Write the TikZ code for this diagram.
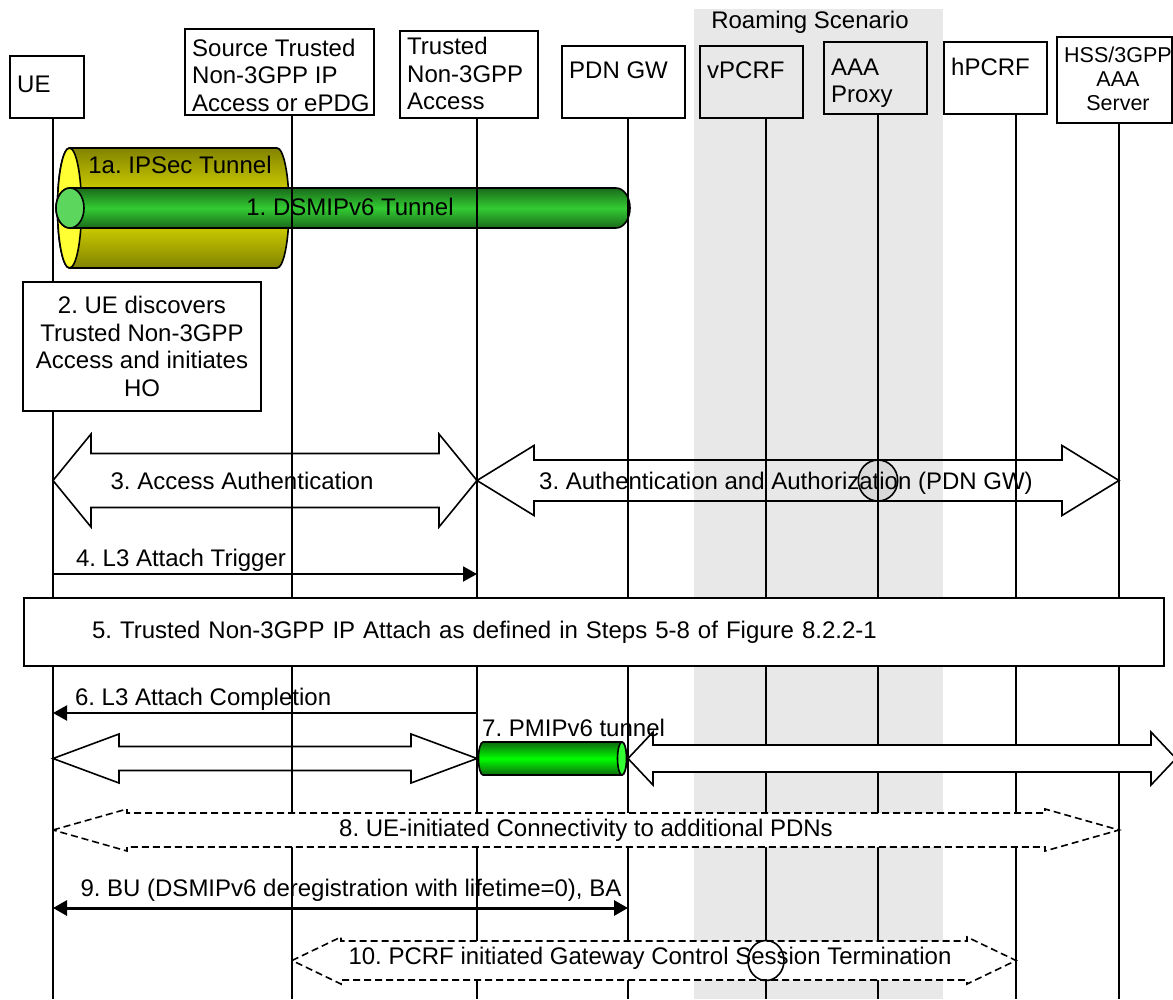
\documentclass[tikz,border=0pt]{standalone}
\usepackage{fontspec}
\setmainfont{Liberation Sans}
\usetikzlibrary{calc,arrows.meta}
\frenchspacing
\definecolor{roamgray}{HTML}{E8E8E8}
\definecolor{ipsecdark}{HTML}{838300}
\definecolor{ipsecmid}{HTML}{EAEA00}
\definecolor{ipsecface}{HTML}{FFFF33}
\definecolor{dsmipdark}{HTML}{1A6A1A}
\definecolor{dsmipmid}{HTML}{33CC33}
\definecolor{dsmipface}{HTML}{5CD65C}
\definecolor{pmipdark}{HTML}{0E6A0E}
\definecolor{pmipmid}{HTML}{00FF00}
\definecolor{pmipface}{HTML}{33FF33}
\definecolor{aaadot}{HTML}{D9D9D9}
\tikzset{
  entbox/.style={draw, line width=1.6pt, inner sep=0pt},
  enttext/.style={anchor=west, align=left, inner sep=0pt, font=\fontsize{24}{27.5}\selectfont},
  lifeline/.style={line width=1.5pt},
  stepbox/.style={draw, fill=white, line width=1.6pt, align=center, font=\fontsize{24}{27.7}\selectfont},
  lbl/.style={inner sep=2pt, font=\fontsize{24}{28}\selectfont},
  bigarrow/.style={draw, line width=1.6pt},
  bigarrowfill/.style={bigarrow, fill=white},
  dasharrow/.style={bigarrow, fill=white, dash pattern=on 7pt off 4pt},
  msg/.style={line width=2pt, -{Triangle[length=14pt,width=15pt]}},
  msgboth/.style={line width=3pt, {Triangle[length=14pt,width=15pt]}-{Triangle[length=14pt,width=15pt]}},
}
\newcommand{\netbox}[9]{%
  \node[entbox, minimum width={(#5-#3)*1pt}, minimum height={(#6-#4)*1pt}] (#1)
    at ({(#3+#5)/2},{(#4+#6)/2}) {};
  \node[enttext, #9] (#1-t) at ({#3+7},#7) {#8};
  \coordinate (#1-l) at (#2,#6);
  \coordinate (#1-e) at (#2,999);}
\newcommand{\tunnel}[9]{%
  \shadedraw[top color=#6, bottom color=#6, middle color=#7, line width=1.6pt]
    (#1,{#3-#4}) -- (#2,{#3-#4}) arc[start angle=-90, end angle=90, x radius=#5, y radius=#4]
    -- (#1,{#3+#4}) arc[start angle=90, end angle=270, x radius=#5, y radius=#4] -- cycle;
  \filldraw[fill=#8, line width=1.6pt] (#9,#3) ellipse [x radius=#5, y radius=#4];}
\newcommand{\blockarrow}[7]{%
  \coordinate (#1-a) at (#3);
  \coordinate (#1-b) at (#4);
  \draw[#2] (#1-a) -- ($(#1-a)+(#7,-#5)$) -- ($(#1-a)+(#7,-#6)$)
    -- ($(#1-b)+(-#7,-#6)$) -- ($(#1-b)+(-#7,-#5)$) -- (#1-b)
    -- ($(#1-b)+(-#7,#5)$) -- ($(#1-b)+(-#7,#6)$)
    -- ($(#1-a)+(#7,#6)$) -- ($(#1-a)+(#7,#5)$) -- cycle;}

\begin{document}
\begin{tikzpicture}[x=1pt,y=-1pt]
  \useasboundingbox (0,0) rectangle (1173,999);
  % Roaming
  \fill[roamgray] (694,9) rectangle (943,999);
  \node[lbl] (roam) at (810,22) {Roaming Scenario};
  \tunnel{69.5}{277}{208}{60}{12}{ipsecdark}{ipsecmid}{ipsecface}{69.5}
  \tunnel{70}{616}{208}{20}{14}{dsmipdark}{dsmipmid}{dsmipface}{70}
  \netbox{ue}{53}{10}{56}{84}{118}{84}{UE}{}
  \netbox{src}{292}{185}{29}{374}{115}{75}{Source Trusted\\Non-3GPP IP\\Access or ePDG}{}
  \netbox{tna}{477}{400}{31}{538}{118}{73.5}{Trusted\\Non-3GPP\\Access}{}
  \netbox{pgw}{628}{562}{46}{685}{118}{70}{PDN GW}{}
  \netbox{vpcrf}{766}{700}{46}{803}{118}{70}{vPCRF}{}
  \netbox{aaap}{878}{824}{42}{927}{114}{83}{AAA\\Proxy}{}
  \netbox{hpcrf}{1016}{944}{42}{1047}{114}{67}{hPCRF}{}
  \netbox{hss}{1119}{1057}{37}{1172}{123}{79}{HSS/3GPP\\AAA\\Server}{align=center, font=\fontsize{21.5}{24}\selectfont}
  \foreach \s/\yy in {3/480.5, 4/574, 6/713, 7/758.5, 8/830, 9/908, 10/960.5}
    \coordinate (r\s) at (0,\yy);
  \filldraw[fill=aaadot, line width=1.6pt] (aaap-l |- r3) ellipse [x radius=19.7, y radius=20.5];
  \foreach \n in {ue,src,tna,pgw,vpcrf,aaap,hpcrf,hss}
    \draw[lifeline] (\n-l) -- (\n-e);
  \node[lbl] (t1a) at (180,165) {1a. IPSec Tunnel};
  \node[lbl] (t1) at (350,207) {1. DSMIPv6 Tunnel};
  \node[stepbox, minimum width=238pt, minimum height=129pt] (s2) at (142,346.5)
    {2. UE discovers\\Trusted Non-3GPP\\Access and initiates\\HO};
  % Steps 3-10
  \blockarrow{a3l}{bigarrow}{ue-l |- r3}{tna-l |- r3}{46.5}{27}{38}
  \node[lbl] (l3a) at (242,481) {3. Access Authentication};
  \blockarrow{a3r}{bigarrow}{tna-l |- r3}{hss-l |- r3}{35}{20.5}{57}
  \node[lbl] (l3b) at (786,483) {3. Authentication and Authorization (PDN GW)};
  \draw[msg] (ue-l |- r4) -- (tna-l |- r4)
    node[lbl, pos=0, anchor=south west, xshift=20pt] (l4) {4. L3 Attach Trigger};
  \node[stepbox, align=left, minimum width=1140pt, minimum height=68pt, text width=1004pt,
    inner xsep=68pt] (s5) at (594,632)
    {5. Trusted Non-3GPP IP Attach as defined in Steps 5-8 of Figure 8.2.2-1};
  \draw[msg] (tna-l |- r6) -- (ue-l |- r6)
    node[lbl, pos=1, anchor=south west, xshift=19pt] (l6) {6. L3 Attach Completion};
  \blockarrow{a7l}{bigarrow}{ue-l |- r7}{tna-l |- r7}{24.5}{12}{66}
  \coordinate (r7e) at (1176,758.5);
  \blockarrow{a7r}{bigarrowfill}{pgw-l |- r7}{r7e}{26.5}{13.5}{25}
  \tunnel{483}{622}{758.5}{16.5}{4.5}{pmipdark}{pmipmid}{pmipface}{622}
  \node[lbl, anchor=west] (l7) at (480,728) {7. PMIPv6 tunnel};
  \blockarrow{a8}{dasharrow}{ue-l |- r8}{hss-l |- r8}{21}{17}{74}
  \node[lbl] (l8) at (586,830) {8. UE-initiated Connectivity to additional PDNs};
  \draw[msgboth] (ue-l |- r9) -- (pgw-l |- r9)
    node[lbl, pos=0, anchor=south west, xshift=24pt, yshift=3pt] (l9)
    {9. BU (DSMIPv6 deregistration with lifetime=0), BA};
  \blockarrow{a10}{dasharrow}{src-l |- r10}{hpcrf-l |- r10}{23.5}{19.5}{49}
  \draw[line width=1.6pt] (vpcrf-l |- r10) ellipse [x radius=18, y radius=20];
  \node[lbl] (l10) at (650,958) {10. PCRF initiated Gateway Control Session Termination};
\end{tikzpicture}
\end{document}
